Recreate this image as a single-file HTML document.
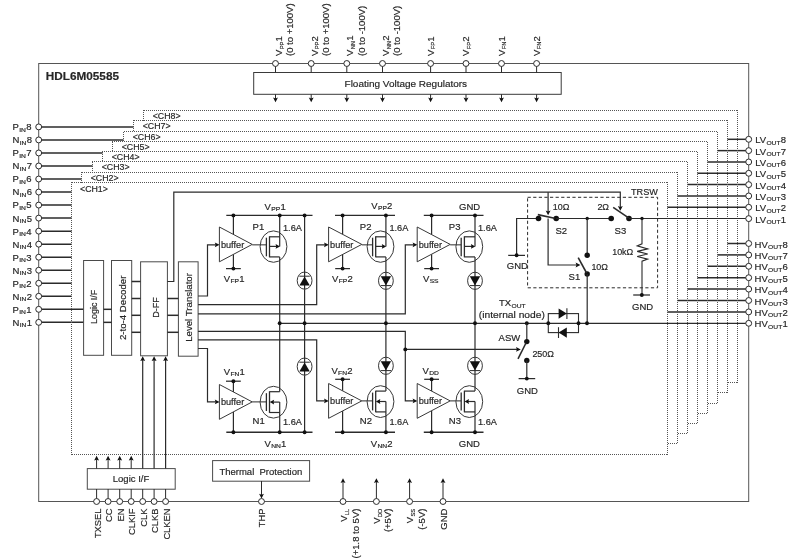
<!DOCTYPE html>
<html><head><meta charset="utf-8"><title>HDL6M05585 block diagram</title>
<style>html,body{margin:0;padding:0;background:#fff;}svg{display:block;will-change:transform;}text{font-family:"Liberation Sans",sans-serif;}</style></head>
<body>
<svg width="800" height="560" viewBox="0 0 800 560" font-family="'Liberation Sans', sans-serif">
<rect x="0" y="0" width="800" height="560" fill="#ffffff"/>
<rect x="38.7" y="63.5" width="710" height="438" fill="none" stroke="#555555" stroke-width="1.0" />
<line x1="38.7" y1="126.9" x2="133.5" y2="126.9" stroke="#2b2b2b" stroke-width="1.5" />
<line x1="38.7" y1="139.93" x2="123.5" y2="139.93" stroke="#2b2b2b" stroke-width="1.5" />
<line x1="38.7" y1="152.96" x2="102.5" y2="152.96" stroke="#2b2b2b" stroke-width="1.5" />
<line x1="38.7" y1="165.99" x2="92.5" y2="165.99" stroke="#2b2b2b" stroke-width="1.5" />
<line x1="38.7" y1="179.02" x2="81.5" y2="179.02" stroke="#2b2b2b" stroke-width="1.5" />
<line x1="38.7" y1="192.05" x2="71.5" y2="192.05" stroke="#2b2b2b" stroke-width="1.5" />
<line x1="38.7" y1="205.08" x2="71.5" y2="205.08" stroke="#2b2b2b" stroke-width="1.5" />
<line x1="38.7" y1="218.11" x2="71.5" y2="218.11" stroke="#2b2b2b" stroke-width="1.5" />
<line x1="38.7" y1="231.14" x2="71.5" y2="231.14" stroke="#2b2b2b" stroke-width="1.5" />
<line x1="38.7" y1="244.17" x2="71.5" y2="244.17" stroke="#2b2b2b" stroke-width="1.5" />
<line x1="38.7" y1="257.2" x2="71.5" y2="257.2" stroke="#2b2b2b" stroke-width="1.5" />
<line x1="38.7" y1="270.23" x2="71.5" y2="270.23" stroke="#2b2b2b" stroke-width="1.5" />
<line x1="38.7" y1="283.26" x2="71.5" y2="283.26" stroke="#2b2b2b" stroke-width="1.5" />
<line x1="38.7" y1="296.29" x2="71.5" y2="296.29" stroke="#2b2b2b" stroke-width="1.5" />
<line x1="38.7" y1="309.32" x2="83.6" y2="309.32" stroke="#2b2b2b" stroke-width="1.5" />
<line x1="38.7" y1="322.35" x2="83.6" y2="322.35" stroke="#2b2b2b" stroke-width="1.5" />
<line x1="727.5" y1="139.3" x2="748.7" y2="139.3" stroke="#2b2b2b" stroke-width="1.5" />
<line x1="727.5" y1="243.5" x2="748.7" y2="243.5" stroke="#2b2b2b" stroke-width="1.5" />
<line x1="717.5" y1="150.63" x2="748.7" y2="150.63" stroke="#2b2b2b" stroke-width="1.5" />
<line x1="717.5" y1="254.9" x2="748.7" y2="254.9" stroke="#2b2b2b" stroke-width="1.5" />
<line x1="707.5" y1="161.96" x2="748.7" y2="161.96" stroke="#2b2b2b" stroke-width="1.5" />
<line x1="707.5" y1="266.3" x2="748.7" y2="266.3" stroke="#2b2b2b" stroke-width="1.5" />
<line x1="697.5" y1="173.29" x2="748.7" y2="173.29" stroke="#2b2b2b" stroke-width="1.5" />
<line x1="697.5" y1="277.7" x2="748.7" y2="277.7" stroke="#2b2b2b" stroke-width="1.5" />
<line x1="687.5" y1="184.62" x2="748.7" y2="184.62" stroke="#2b2b2b" stroke-width="1.5" />
<line x1="687.5" y1="289.1" x2="748.7" y2="289.1" stroke="#2b2b2b" stroke-width="1.5" />
<line x1="677.5" y1="195.95" x2="748.7" y2="195.95" stroke="#2b2b2b" stroke-width="1.5" />
<line x1="677.5" y1="300.5" x2="748.7" y2="300.5" stroke="#2b2b2b" stroke-width="1.5" />
<line x1="667.5" y1="207.28" x2="748.7" y2="207.28" stroke="#2b2b2b" stroke-width="1.5" />
<line x1="667.5" y1="311.9" x2="748.7" y2="311.9" stroke="#2b2b2b" stroke-width="1.5" />
<defs><pattern id="dh" width="2" height="1" patternUnits="userSpaceOnUse"><rect x="0" y="0" width="1" height="1" fill="#555555"/></pattern><pattern id="dv" width="1" height="2" patternUnits="userSpaceOnUse"><rect x="0" y="0" width="1" height="1" fill="#555555"/></pattern></defs>
<rect x="143" y="110" width="1" height="11" fill="url(#dv)"/>
<rect x="143" y="110" width="595" height="1" fill="url(#dh)"/>
<rect x="737" y="110" width="1" height="273" fill="url(#dv)"/>
<rect x="727" y="382" width="11" height="1" fill="url(#dh)"/>
<rect x="133" y="120" width="1" height="12" fill="url(#dv)"/>
<rect x="133" y="120" width="595" height="1" fill="url(#dh)"/>
<rect x="727" y="120" width="1" height="273" fill="url(#dv)"/>
<rect x="717" y="392" width="11" height="1" fill="url(#dh)"/>
<rect x="123" y="131" width="1" height="11" fill="url(#dv)"/>
<rect x="123" y="131" width="595" height="1" fill="url(#dh)"/>
<rect x="717" y="131" width="1" height="273" fill="url(#dv)"/>
<rect x="707" y="403" width="11" height="1" fill="url(#dh)"/>
<rect x="112" y="141" width="1" height="11" fill="url(#dv)"/>
<rect x="112" y="141" width="596" height="1" fill="url(#dh)"/>
<rect x="707" y="141" width="1" height="273" fill="url(#dv)"/>
<rect x="697" y="413" width="11" height="1" fill="url(#dh)"/>
<rect x="102" y="151" width="1" height="11" fill="url(#dv)"/>
<rect x="102" y="151" width="596" height="1" fill="url(#dh)"/>
<rect x="697" y="151" width="1" height="273" fill="url(#dv)"/>
<rect x="687" y="423" width="11" height="1" fill="url(#dh)"/>
<rect x="92" y="161" width="1" height="12" fill="url(#dv)"/>
<rect x="92" y="161" width="596" height="1" fill="url(#dh)"/>
<rect x="687" y="161" width="1" height="273" fill="url(#dv)"/>
<rect x="677" y="433" width="11" height="1" fill="url(#dh)"/>
<rect x="81" y="172" width="1" height="11" fill="url(#dv)"/>
<rect x="81" y="172" width="597" height="1" fill="url(#dh)"/>
<rect x="677" y="172" width="1" height="272" fill="url(#dv)"/>
<rect x="667" y="443" width="11" height="1" fill="url(#dh)"/>
<rect x="71" y="182" width="1" height="273" fill="url(#dv)"/>
<rect x="667" y="182" width="1" height="273" fill="url(#dv)"/>
<rect x="71" y="182" width="597" height="1" fill="url(#dh)"/>
<rect x="71" y="454" width="597" height="1" fill="url(#dh)"/>
<g transform="translate(152.7 118.9)" fill="#262626" stroke="#262626" stroke-width="0.18"><text transform="translate(0 0) scale(1 1)" font-size="8.8" xml:space="preserve">&lt;CH8&gt;</text></g>
<g transform="translate(142.7 128.9)" fill="#262626" stroke="#262626" stroke-width="0.18"><text transform="translate(0 0) scale(1 1)" font-size="8.8" xml:space="preserve">&lt;CH7&gt;</text></g>
<g transform="translate(132.7 139.9)" fill="#262626" stroke="#262626" stroke-width="0.18"><text transform="translate(0 0) scale(1 1)" font-size="8.8" xml:space="preserve">&lt;CH6&gt;</text></g>
<g transform="translate(121.7 149.9)" fill="#262626" stroke="#262626" stroke-width="0.18"><text transform="translate(0 0) scale(1 1)" font-size="8.8" xml:space="preserve">&lt;CH5&gt;</text></g>
<g transform="translate(111.7 159.9)" fill="#262626" stroke="#262626" stroke-width="0.18"><text transform="translate(0 0) scale(1 1)" font-size="8.8" xml:space="preserve">&lt;CH4&gt;</text></g>
<g transform="translate(101.7 169.9)" fill="#262626" stroke="#262626" stroke-width="0.18"><text transform="translate(0 0) scale(1 1)" font-size="8.8" xml:space="preserve">&lt;CH3&gt;</text></g>
<g transform="translate(90.7 180.9)" fill="#262626" stroke="#262626" stroke-width="0.18"><text transform="translate(0 0) scale(1 1)" font-size="8.8" xml:space="preserve">&lt;CH2&gt;</text></g>
<g transform="translate(80 192.3)" fill="#262626" stroke="#262626" stroke-width="0.18"><text transform="translate(0 0) scale(1 1)" font-size="8.8" xml:space="preserve">&lt;CH1&gt;</text></g>
<g transform="translate(45.8 80)" fill="#262626" stroke="#262626" stroke-width="0.18" font-weight="bold"><text transform="translate(0 0) scale(1 1)" font-size="11.75" xml:space="preserve">HDL6M05585</text></g>
<rect x="253.7" y="72.5" width="307.5" height="21.8" fill="none" stroke="#3a3a3a" stroke-width="1.0" />
<line x1="275.5" y1="63.5" x2="275.5" y2="72.5" stroke="#2b2b2b" stroke-width="1.0" />
<line x1="275.5" y1="94.3" x2="275.5" y2="99" stroke="#2b2b2b" stroke-width="1.0" />
<polygon points="275.5,102.3 273.05,97.5 275.5,98.4 277.95,97.5" fill="#111" stroke="none" stroke-width="1.0"/>
<line x1="311.2" y1="63.5" x2="311.2" y2="72.5" stroke="#2b2b2b" stroke-width="1.0" />
<line x1="311.2" y1="94.3" x2="311.2" y2="99" stroke="#2b2b2b" stroke-width="1.0" />
<polygon points="311.2,102.3 308.75,97.5 311.2,98.4 313.65,97.5" fill="#111" stroke="none" stroke-width="1.0"/>
<line x1="346.8" y1="63.5" x2="346.8" y2="72.5" stroke="#2b2b2b" stroke-width="1.0" />
<line x1="346.8" y1="94.3" x2="346.8" y2="99" stroke="#2b2b2b" stroke-width="1.0" />
<polygon points="346.8,102.3 344.35,97.5 346.8,98.4 349.25,97.5" fill="#111" stroke="none" stroke-width="1.0"/>
<line x1="382.5" y1="63.5" x2="382.5" y2="72.5" stroke="#2b2b2b" stroke-width="1.0" />
<line x1="382.5" y1="94.3" x2="382.5" y2="99" stroke="#2b2b2b" stroke-width="1.0" />
<polygon points="382.5,102.3 380.05,97.5 382.5,98.4 384.95,97.5" fill="#111" stroke="none" stroke-width="1.0"/>
<line x1="430.6" y1="63.5" x2="430.6" y2="72.5" stroke="#2b2b2b" stroke-width="1.0" />
<line x1="430.6" y1="94.3" x2="430.6" y2="99" stroke="#2b2b2b" stroke-width="1.0" />
<polygon points="430.6,102.3 428.15,97.5 430.6,98.4 433.05,97.5" fill="#111" stroke="none" stroke-width="1.0"/>
<line x1="466" y1="63.5" x2="466" y2="72.5" stroke="#2b2b2b" stroke-width="1.0" />
<line x1="466" y1="94.3" x2="466" y2="99" stroke="#2b2b2b" stroke-width="1.0" />
<polygon points="466,102.3 463.55,97.5 466,98.4 468.45,97.5" fill="#111" stroke="none" stroke-width="1.0"/>
<line x1="501.5" y1="63.5" x2="501.5" y2="72.5" stroke="#2b2b2b" stroke-width="1.0" />
<line x1="501.5" y1="94.3" x2="501.5" y2="99" stroke="#2b2b2b" stroke-width="1.0" />
<polygon points="501.5,102.3 499.05,97.5 501.5,98.4 503.95,97.5" fill="#111" stroke="none" stroke-width="1.0"/>
<line x1="536.6" y1="63.5" x2="536.6" y2="72.5" stroke="#2b2b2b" stroke-width="1.0" />
<line x1="536.6" y1="94.3" x2="536.6" y2="99" stroke="#2b2b2b" stroke-width="1.0" />
<polygon points="536.6,102.3 534.15,97.5 536.6,98.4 539.05,97.5" fill="#111" stroke="none" stroke-width="1.0"/>
<g transform="translate(405.8 87.4)" fill="#262626" stroke="#262626" stroke-width="0.18"><text transform="translate(-61.25 0) scale(1.03 1)" font-size="9.7" xml:space="preserve">Floating Voltage Regulators</text></g>
<g transform="translate(282.1 56) rotate(-90)" fill="#262626" stroke="#262626" stroke-width="0.18"><text transform="translate(0 0) scale(1 1)" font-size="9.5" xml:space="preserve">V</text><text transform="translate(6.64 1.4) scale(1.05 1)" font-size="5.5" stroke-width="0.16">PP</text><text transform="translate(14.54 0) scale(1 1)" font-size="9.5" xml:space="preserve">1</text></g>
<g transform="translate(293.4 56) rotate(-90)" fill="#262626" stroke="#262626" stroke-width="0.18"><text transform="translate(0 0) scale(1 1)" font-size="9.5" xml:space="preserve">(0 to +100V)</text></g>
<g transform="translate(317.8 56) rotate(-90)" fill="#262626" stroke="#262626" stroke-width="0.18"><text transform="translate(0 0) scale(1 1)" font-size="9.5" xml:space="preserve">V</text><text transform="translate(6.64 1.4) scale(1.05 1)" font-size="5.5" stroke-width="0.16">PP</text><text transform="translate(14.54 0) scale(1 1)" font-size="9.5" xml:space="preserve">2</text></g>
<g transform="translate(329.1 56) rotate(-90)" fill="#262626" stroke="#262626" stroke-width="0.18"><text transform="translate(0 0) scale(1 1)" font-size="9.5" xml:space="preserve">(0 to +100V)</text></g>
<g transform="translate(353.4 56) rotate(-90)" fill="#262626" stroke="#262626" stroke-width="0.18"><text transform="translate(0 0) scale(1 1)" font-size="9.5" xml:space="preserve">V</text><text transform="translate(6.64 1.4) scale(1.05 1)" font-size="5.5" stroke-width="0.16">NN</text><text transform="translate(15.18 0) scale(1 1)" font-size="9.5" xml:space="preserve">1</text></g>
<g transform="translate(364.7 56) rotate(-90)" fill="#262626" stroke="#262626" stroke-width="0.18"><text transform="translate(0 0) scale(1 1)" font-size="9.5" xml:space="preserve">(0 to -100V)</text></g>
<g transform="translate(389.1 56) rotate(-90)" fill="#262626" stroke="#262626" stroke-width="0.18"><text transform="translate(0 0) scale(1 1)" font-size="9.5" xml:space="preserve">V</text><text transform="translate(6.64 1.4) scale(1.05 1)" font-size="5.5" stroke-width="0.16">NN</text><text transform="translate(15.18 0) scale(1 1)" font-size="9.5" xml:space="preserve">2</text></g>
<g transform="translate(400.4 56) rotate(-90)" fill="#262626" stroke="#262626" stroke-width="0.18"><text transform="translate(0 0) scale(1 1)" font-size="9.5" xml:space="preserve">(0 to -100V)</text></g>
<g transform="translate(433.9 56) rotate(-90)" fill="#262626" stroke="#262626" stroke-width="0.18"><text transform="translate(0 0) scale(1 1)" font-size="9.5" xml:space="preserve">V</text><text transform="translate(6.64 1.4) scale(1.05 1)" font-size="5.5" stroke-width="0.16">FP</text><text transform="translate(14.22 0) scale(1 1)" font-size="9.5" xml:space="preserve">1</text></g>
<g transform="translate(469.3 56) rotate(-90)" fill="#262626" stroke="#262626" stroke-width="0.18"><text transform="translate(0 0) scale(1 1)" font-size="9.5" xml:space="preserve">V</text><text transform="translate(6.64 1.4) scale(1.05 1)" font-size="5.5" stroke-width="0.16">FP</text><text transform="translate(14.22 0) scale(1 1)" font-size="9.5" xml:space="preserve">2</text></g>
<g transform="translate(504.8 56) rotate(-90)" fill="#262626" stroke="#262626" stroke-width="0.18"><text transform="translate(0 0) scale(1 1)" font-size="9.5" xml:space="preserve">V</text><text transform="translate(6.64 1.4) scale(1.05 1)" font-size="5.5" stroke-width="0.16">FN</text><text transform="translate(14.53 0) scale(1 1)" font-size="9.5" xml:space="preserve">1</text></g>
<g transform="translate(539.9 56) rotate(-90)" fill="#262626" stroke="#262626" stroke-width="0.18"><text transform="translate(0 0) scale(1 1)" font-size="9.5" xml:space="preserve">V</text><text transform="translate(6.64 1.4) scale(1.05 1)" font-size="5.5" stroke-width="0.16">FN</text><text transform="translate(14.53 0) scale(1 1)" font-size="9.5" xml:space="preserve">2</text></g>
<g transform="translate(12.6 130.3)" fill="#262626" stroke="#262626" stroke-width="0.18"><text transform="translate(0 0) scale(1 1)" font-size="9.5" xml:space="preserve">P</text><text transform="translate(6.64 1.4) scale(1.22 1)" font-size="5.5" stroke-width="0.16">IN</text><text transform="translate(13.55 0) scale(1 1)" font-size="9.5" xml:space="preserve">8</text></g>
<g transform="translate(12.6 143.33)" fill="#262626" stroke="#262626" stroke-width="0.18"><text transform="translate(0 0) scale(1 1)" font-size="9.5" xml:space="preserve">N</text><text transform="translate(7.16 1.4) scale(1.22 1)" font-size="5.5" stroke-width="0.16">IN</text><text transform="translate(14.07 0) scale(1 1)" font-size="9.5" xml:space="preserve">8</text></g>
<g transform="translate(12.6 156.36)" fill="#262626" stroke="#262626" stroke-width="0.18"><text transform="translate(0 0) scale(1 1)" font-size="9.5" xml:space="preserve">P</text><text transform="translate(6.64 1.4) scale(1.22 1)" font-size="5.5" stroke-width="0.16">IN</text><text transform="translate(13.55 0) scale(1 1)" font-size="9.5" xml:space="preserve">7</text></g>
<g transform="translate(12.6 169.39)" fill="#262626" stroke="#262626" stroke-width="0.18"><text transform="translate(0 0) scale(1 1)" font-size="9.5" xml:space="preserve">N</text><text transform="translate(7.16 1.4) scale(1.22 1)" font-size="5.5" stroke-width="0.16">IN</text><text transform="translate(14.07 0) scale(1 1)" font-size="9.5" xml:space="preserve">7</text></g>
<g transform="translate(12.6 182.42)" fill="#262626" stroke="#262626" stroke-width="0.18"><text transform="translate(0 0) scale(1 1)" font-size="9.5" xml:space="preserve">P</text><text transform="translate(6.64 1.4) scale(1.22 1)" font-size="5.5" stroke-width="0.16">IN</text><text transform="translate(13.55 0) scale(1 1)" font-size="9.5" xml:space="preserve">6</text></g>
<g transform="translate(12.6 195.45)" fill="#262626" stroke="#262626" stroke-width="0.18"><text transform="translate(0 0) scale(1 1)" font-size="9.5" xml:space="preserve">N</text><text transform="translate(7.16 1.4) scale(1.22 1)" font-size="5.5" stroke-width="0.16">IN</text><text transform="translate(14.07 0) scale(1 1)" font-size="9.5" xml:space="preserve">6</text></g>
<g transform="translate(12.6 208.48)" fill="#262626" stroke="#262626" stroke-width="0.18"><text transform="translate(0 0) scale(1 1)" font-size="9.5" xml:space="preserve">P</text><text transform="translate(6.64 1.4) scale(1.22 1)" font-size="5.5" stroke-width="0.16">IN</text><text transform="translate(13.55 0) scale(1 1)" font-size="9.5" xml:space="preserve">5</text></g>
<g transform="translate(12.6 221.51)" fill="#262626" stroke="#262626" stroke-width="0.18"><text transform="translate(0 0) scale(1 1)" font-size="9.5" xml:space="preserve">N</text><text transform="translate(7.16 1.4) scale(1.22 1)" font-size="5.5" stroke-width="0.16">IN</text><text transform="translate(14.07 0) scale(1 1)" font-size="9.5" xml:space="preserve">5</text></g>
<g transform="translate(12.6 234.54)" fill="#262626" stroke="#262626" stroke-width="0.18"><text transform="translate(0 0) scale(1 1)" font-size="9.5" xml:space="preserve">P</text><text transform="translate(6.64 1.4) scale(1.22 1)" font-size="5.5" stroke-width="0.16">IN</text><text transform="translate(13.55 0) scale(1 1)" font-size="9.5" xml:space="preserve">4</text></g>
<g transform="translate(12.6 247.57)" fill="#262626" stroke="#262626" stroke-width="0.18"><text transform="translate(0 0) scale(1 1)" font-size="9.5" xml:space="preserve">N</text><text transform="translate(7.16 1.4) scale(1.22 1)" font-size="5.5" stroke-width="0.16">IN</text><text transform="translate(14.07 0) scale(1 1)" font-size="9.5" xml:space="preserve">4</text></g>
<g transform="translate(12.6 260.6)" fill="#262626" stroke="#262626" stroke-width="0.18"><text transform="translate(0 0) scale(1 1)" font-size="9.5" xml:space="preserve">P</text><text transform="translate(6.64 1.4) scale(1.22 1)" font-size="5.5" stroke-width="0.16">IN</text><text transform="translate(13.55 0) scale(1 1)" font-size="9.5" xml:space="preserve">3</text></g>
<g transform="translate(12.6 273.63)" fill="#262626" stroke="#262626" stroke-width="0.18"><text transform="translate(0 0) scale(1 1)" font-size="9.5" xml:space="preserve">N</text><text transform="translate(7.16 1.4) scale(1.22 1)" font-size="5.5" stroke-width="0.16">IN</text><text transform="translate(14.07 0) scale(1 1)" font-size="9.5" xml:space="preserve">3</text></g>
<g transform="translate(12.6 286.66)" fill="#262626" stroke="#262626" stroke-width="0.18"><text transform="translate(0 0) scale(1 1)" font-size="9.5" xml:space="preserve">P</text><text transform="translate(6.64 1.4) scale(1.22 1)" font-size="5.5" stroke-width="0.16">IN</text><text transform="translate(13.55 0) scale(1 1)" font-size="9.5" xml:space="preserve">2</text></g>
<g transform="translate(12.6 299.69)" fill="#262626" stroke="#262626" stroke-width="0.18"><text transform="translate(0 0) scale(1 1)" font-size="9.5" xml:space="preserve">N</text><text transform="translate(7.16 1.4) scale(1.22 1)" font-size="5.5" stroke-width="0.16">IN</text><text transform="translate(14.07 0) scale(1 1)" font-size="9.5" xml:space="preserve">2</text></g>
<g transform="translate(12.6 312.72)" fill="#262626" stroke="#262626" stroke-width="0.18"><text transform="translate(0 0) scale(1 1)" font-size="9.5" xml:space="preserve">P</text><text transform="translate(6.64 1.4) scale(1.22 1)" font-size="5.5" stroke-width="0.16">IN</text><text transform="translate(13.55 0) scale(1 1)" font-size="9.5" xml:space="preserve">1</text></g>
<g transform="translate(12.6 325.75)" fill="#262626" stroke="#262626" stroke-width="0.18"><text transform="translate(0 0) scale(1 1)" font-size="9.5" xml:space="preserve">N</text><text transform="translate(7.16 1.4) scale(1.22 1)" font-size="5.5" stroke-width="0.16">IN</text><text transform="translate(14.07 0) scale(1 1)" font-size="9.5" xml:space="preserve">1</text></g>
<g transform="translate(755.2 143.3)" fill="#262626" stroke="#262626" stroke-width="0.18"><text transform="translate(0 0) scale(1 1)" font-size="9.5" xml:space="preserve">LV</text><text transform="translate(11.21 1.4) scale(1.22 1)" font-size="5.5" stroke-width="0.16">OUT</text><text transform="translate(25.58 0) scale(1 1)" font-size="9.5" xml:space="preserve">8</text></g>
<g transform="translate(754.6 247.5)" fill="#262626" stroke="#262626" stroke-width="0.18"><text transform="translate(0 0) scale(1 1)" font-size="9.5" xml:space="preserve">HV</text><text transform="translate(13.5 1.4) scale(1.22 1)" font-size="5.5" stroke-width="0.16">OUT</text><text transform="translate(27.86 0) scale(1 1)" font-size="9.5" xml:space="preserve">8</text></g>
<g transform="translate(755.2 154.63)" fill="#262626" stroke="#262626" stroke-width="0.18"><text transform="translate(0 0) scale(1 1)" font-size="9.5" xml:space="preserve">LV</text><text transform="translate(11.21 1.4) scale(1.22 1)" font-size="5.5" stroke-width="0.16">OUT</text><text transform="translate(25.58 0) scale(1 1)" font-size="9.5" xml:space="preserve">7</text></g>
<g transform="translate(754.6 258.9)" fill="#262626" stroke="#262626" stroke-width="0.18"><text transform="translate(0 0) scale(1 1)" font-size="9.5" xml:space="preserve">HV</text><text transform="translate(13.5 1.4) scale(1.22 1)" font-size="5.5" stroke-width="0.16">OUT</text><text transform="translate(27.86 0) scale(1 1)" font-size="9.5" xml:space="preserve">7</text></g>
<g transform="translate(755.2 165.96)" fill="#262626" stroke="#262626" stroke-width="0.18"><text transform="translate(0 0) scale(1 1)" font-size="9.5" xml:space="preserve">LV</text><text transform="translate(11.21 1.4) scale(1.22 1)" font-size="5.5" stroke-width="0.16">OUT</text><text transform="translate(25.58 0) scale(1 1)" font-size="9.5" xml:space="preserve">6</text></g>
<g transform="translate(754.6 270.3)" fill="#262626" stroke="#262626" stroke-width="0.18"><text transform="translate(0 0) scale(1 1)" font-size="9.5" xml:space="preserve">HV</text><text transform="translate(13.5 1.4) scale(1.22 1)" font-size="5.5" stroke-width="0.16">OUT</text><text transform="translate(27.86 0) scale(1 1)" font-size="9.5" xml:space="preserve">6</text></g>
<g transform="translate(755.2 177.29)" fill="#262626" stroke="#262626" stroke-width="0.18"><text transform="translate(0 0) scale(1 1)" font-size="9.5" xml:space="preserve">LV</text><text transform="translate(11.21 1.4) scale(1.22 1)" font-size="5.5" stroke-width="0.16">OUT</text><text transform="translate(25.58 0) scale(1 1)" font-size="9.5" xml:space="preserve">5</text></g>
<g transform="translate(754.6 281.7)" fill="#262626" stroke="#262626" stroke-width="0.18"><text transform="translate(0 0) scale(1 1)" font-size="9.5" xml:space="preserve">HV</text><text transform="translate(13.5 1.4) scale(1.22 1)" font-size="5.5" stroke-width="0.16">OUT</text><text transform="translate(27.86 0) scale(1 1)" font-size="9.5" xml:space="preserve">5</text></g>
<g transform="translate(755.2 188.62)" fill="#262626" stroke="#262626" stroke-width="0.18"><text transform="translate(0 0) scale(1 1)" font-size="9.5" xml:space="preserve">LV</text><text transform="translate(11.21 1.4) scale(1.22 1)" font-size="5.5" stroke-width="0.16">OUT</text><text transform="translate(25.58 0) scale(1 1)" font-size="9.5" xml:space="preserve">4</text></g>
<g transform="translate(754.6 293.1)" fill="#262626" stroke="#262626" stroke-width="0.18"><text transform="translate(0 0) scale(1 1)" font-size="9.5" xml:space="preserve">HV</text><text transform="translate(13.5 1.4) scale(1.22 1)" font-size="5.5" stroke-width="0.16">OUT</text><text transform="translate(27.86 0) scale(1 1)" font-size="9.5" xml:space="preserve">4</text></g>
<g transform="translate(755.2 199.95)" fill="#262626" stroke="#262626" stroke-width="0.18"><text transform="translate(0 0) scale(1 1)" font-size="9.5" xml:space="preserve">LV</text><text transform="translate(11.21 1.4) scale(1.22 1)" font-size="5.5" stroke-width="0.16">OUT</text><text transform="translate(25.58 0) scale(1 1)" font-size="9.5" xml:space="preserve">3</text></g>
<g transform="translate(754.6 304.5)" fill="#262626" stroke="#262626" stroke-width="0.18"><text transform="translate(0 0) scale(1 1)" font-size="9.5" xml:space="preserve">HV</text><text transform="translate(13.5 1.4) scale(1.22 1)" font-size="5.5" stroke-width="0.16">OUT</text><text transform="translate(27.86 0) scale(1 1)" font-size="9.5" xml:space="preserve">3</text></g>
<g transform="translate(755.2 211.28)" fill="#262626" stroke="#262626" stroke-width="0.18"><text transform="translate(0 0) scale(1 1)" font-size="9.5" xml:space="preserve">LV</text><text transform="translate(11.21 1.4) scale(1.22 1)" font-size="5.5" stroke-width="0.16">OUT</text><text transform="translate(25.58 0) scale(1 1)" font-size="9.5" xml:space="preserve">2</text></g>
<g transform="translate(754.6 315.9)" fill="#262626" stroke="#262626" stroke-width="0.18"><text transform="translate(0 0) scale(1 1)" font-size="9.5" xml:space="preserve">HV</text><text transform="translate(13.5 1.4) scale(1.22 1)" font-size="5.5" stroke-width="0.16">OUT</text><text transform="translate(27.86 0) scale(1 1)" font-size="9.5" xml:space="preserve">2</text></g>
<g transform="translate(755.2 222.61)" fill="#262626" stroke="#262626" stroke-width="0.18"><text transform="translate(0 0) scale(1 1)" font-size="9.5" xml:space="preserve">LV</text><text transform="translate(11.21 1.4) scale(1.22 1)" font-size="5.5" stroke-width="0.16">OUT</text><text transform="translate(25.58 0) scale(1 1)" font-size="9.5" xml:space="preserve">1</text></g>
<g transform="translate(754.6 327.3)" fill="#262626" stroke="#262626" stroke-width="0.18"><text transform="translate(0 0) scale(1 1)" font-size="9.5" xml:space="preserve">HV</text><text transform="translate(13.5 1.4) scale(1.22 1)" font-size="5.5" stroke-width="0.16">OUT</text><text transform="translate(27.86 0) scale(1 1)" font-size="9.5" xml:space="preserve">1</text></g>
<rect x="83.6" y="260.5" width="20" height="94.8" fill="none" stroke="#4a4a4a" stroke-width="1.0" />
<rect x="111.5" y="260.5" width="20.2" height="94.8" fill="none" stroke="#4a4a4a" stroke-width="1.0" />
<rect x="140.6" y="261.8" width="26.8" height="94" fill="none" stroke="#4a4a4a" stroke-width="1.0" />
<rect x="178.4" y="261.8" width="19.7" height="94.4" fill="none" stroke="#4a4a4a" stroke-width="1.0" />
<g transform="translate(97.3 306.8) rotate(-90)" fill="#262626" stroke="#262626" stroke-width="0.18"><text transform="translate(-17.12 0) scale(0.94 1)" font-size="9.5" xml:space="preserve">Logic I/F</text></g>
<g transform="translate(125.9 307.8) rotate(-90)" fill="#262626" stroke="#262626" stroke-width="0.18"><text transform="translate(-32.32 0) scale(1.02 1)" font-size="9.5" xml:space="preserve">2-to-4 Decoder</text></g>
<g transform="translate(158.6 307.4) rotate(-90)" fill="#262626" stroke="#262626" stroke-width="0.18"><text transform="translate(-10.27 0) scale(0.95 1)" font-size="9.5" xml:space="preserve">D-FF</text></g>
<g transform="translate(192.4 307.4) rotate(-90)" fill="#262626" stroke="#262626" stroke-width="0.18"><text transform="translate(-34.47 0) scale(1.02 1)" font-size="9.5" xml:space="preserve">Level Translator</text></g>
<line x1="103.6" y1="309.32" x2="111.5" y2="309.32" stroke="#2b2b2b" stroke-width="1.5" />
<line x1="103.6" y1="322.35" x2="111.5" y2="322.35" stroke="#2b2b2b" stroke-width="1.5" />
<line x1="131.7" y1="281.5" x2="140.6" y2="281.5" stroke="#2b2b2b" stroke-width="1.5" />
<line x1="131.7" y1="298.5" x2="140.6" y2="298.5" stroke="#2b2b2b" stroke-width="1.5" />
<line x1="131.7" y1="315.3" x2="140.6" y2="315.3" stroke="#2b2b2b" stroke-width="1.5" />
<line x1="131.7" y1="332.3" x2="140.6" y2="332.3" stroke="#2b2b2b" stroke-width="1.5" />
<line x1="167.4" y1="298.5" x2="178.4" y2="298.5" stroke="#2b2b2b" stroke-width="1.5" />
<line x1="167.4" y1="315.3" x2="178.4" y2="315.3" stroke="#2b2b2b" stroke-width="1.5" />
<line x1="167.4" y1="332.3" x2="178.4" y2="332.3" stroke="#2b2b2b" stroke-width="1.5" />
<polyline points="167.4,281.5 173.8,281.5 173.8,192.2 620.3,192.2 620.3,207" fill="none" stroke="#2b2b2b" stroke-width="1.2" />
<polygon points="620.3,210.8 617.85,206 620.3,206.9 622.75,206" fill="#111" stroke="none" stroke-width="1.0"/>
<polyline points="548.1,192.2 548.1,212" fill="none" stroke="#2b2b2b" stroke-width="1.2" />
<polygon points="548.1,215.3 545.65,210.5 548.1,211.4 550.55,210.5" fill="#111" stroke="none" stroke-width="1.0"/>
<polyline points="548.1,218.5 548.1,265 577,265" fill="none" stroke="#2b2b2b" stroke-width="1.2" />
<polygon points="580.4,265 575.6,262.55 576.5,265 575.6,267.45" fill="#111" stroke="none" stroke-width="1.0"/>
<polyline points="198.1,296 207.5,296 207.5,244.85 216.4,244.85" fill="none" stroke="#2b2b2b" stroke-width="1.2" />
<polyline points="198.1,348.5 207.5,348.5 207.5,401.9 216.4,401.9" fill="none" stroke="#2b2b2b" stroke-width="1.2" />
<polyline points="198.1,304.6 316.7,304.6 316.7,244.85 325.6,244.85" fill="none" stroke="#2b2b2b" stroke-width="1.2" />
<polyline points="198.1,339.8 316.7,339.8 316.7,400.9 325.6,400.9" fill="none" stroke="#2b2b2b" stroke-width="1.2" />
<polyline points="198.1,313.9 405.3,313.9 405.3,244.85 414.2,244.85" fill="none" stroke="#2b2b2b" stroke-width="1.2" />
<polyline points="198.1,331.4 405.3,331.4 405.3,400.9 414.2,400.9" fill="none" stroke="#2b2b2b" stroke-width="1.2" />
<polygon points="219.6,244.85 214.8,242.4 215.7,244.85 214.8,247.3" fill="#111" stroke="none" stroke-width="1.0"/>
<polygon points="219.6,401.9 214.8,399.45 215.7,401.9 214.8,404.35" fill="#111" stroke="none" stroke-width="1.0"/>
<polygon points="328.8,244.85 324,242.4 324.9,244.85 324,247.3" fill="#111" stroke="none" stroke-width="1.0"/>
<polygon points="328.8,400.9 324,398.45 324.9,400.9 324,403.35" fill="#111" stroke="none" stroke-width="1.0"/>
<polygon points="417.4,244.85 412.6,242.4 413.5,244.85 412.6,247.3" fill="#111" stroke="none" stroke-width="1.0"/>
<polygon points="417.4,400.9 412.6,398.45 413.5,400.9 412.6,403.35" fill="#111" stroke="none" stroke-width="1.0"/>
<line x1="405.3" y1="349.4" x2="517.5" y2="349.4" stroke="#2b2b2b" stroke-width="1.2" />
<circle cx="405.3" cy="349.4" r="1.95" fill="#111"/>
<polygon points="520.8,349.4 516,346.95 516.9,349.4 516,351.85" fill="#111" stroke="none" stroke-width="1.0"/>
<line x1="279.7" y1="323.3" x2="748.7" y2="323.3" stroke="#2b2b2b" stroke-width="1.2" />
<line x1="226.3" y1="215.4" x2="312.5" y2="215.4" stroke="#2b2b2b" stroke-width="1.4" />
<line x1="226.3" y1="432.3" x2="312.5" y2="432.3" stroke="#2b2b2b" stroke-width="1.4" />
<line x1="233.4" y1="215.4" x2="233.4" y2="234.43" stroke="#2b2b2b" stroke-width="1.2" />
<line x1="233.4" y1="254.37" x2="233.4" y2="268.6" stroke="#2b2b2b" stroke-width="1.2" />
<line x1="226" y1="268.6" x2="240.8" y2="268.6" stroke="#2b2b2b" stroke-width="1.25" />
<line x1="233.4" y1="381.2" x2="233.4" y2="391.93" stroke="#2b2b2b" stroke-width="1.2" />
<line x1="226" y1="381.2" x2="240.8" y2="381.2" stroke="#2b2b2b" stroke-width="1.25" />
<line x1="233.4" y1="411.87" x2="233.4" y2="432.3" stroke="#2b2b2b" stroke-width="1.2" />
<circle cx="233.4" cy="215.4" r="1.95" fill="#111"/>
<circle cx="233.4" cy="432.3" r="1.95" fill="#111"/>
<circle cx="233.4" cy="268.6" r="1.95" fill="#111"/>
<circle cx="233.4" cy="381.2" r="1.95" fill="#111"/>
<polyline points="219.4,227 252.2,244.4 219.4,261.8 219.4,227" fill="#fff" stroke="#383838" stroke-width="1.0" stroke-linejoin="miter"/>
<g transform="translate(220.9 247.7)" fill="#262626" stroke="#262626" stroke-width="0.18"><text transform="translate(0 0) scale(1 1)" font-size="9.2" xml:space="preserve">buffer</text></g>
<polyline points="219.4,384.5 252.2,401.9 219.4,419.3 219.4,384.5" fill="#fff" stroke="#383838" stroke-width="1.0" stroke-linejoin="miter"/>
<g transform="translate(220.9 405.2)" fill="#262626" stroke="#262626" stroke-width="0.18"><text transform="translate(0 0) scale(1 1)" font-size="9.2" xml:space="preserve">buffer</text></g>
<line x1="252.2" y1="244.85" x2="266.4" y2="244.85" stroke="#2b2b2b" stroke-width="1.0" />
<ellipse cx="273.5" cy="246.6" rx="13.4" ry="15.7" fill="none" stroke="#383838" stroke-width="1"/>
<line x1="266.4" y1="237.7" x2="266.4" y2="256.3" stroke="#2b2b2b" stroke-width="1.3" />
<line x1="269.5" y1="236.3" x2="269.5" y2="257.3" stroke="#2b2b2b" stroke-width="1.3" />
<line x1="269.5" y1="236.8" x2="279.7" y2="236.8" stroke="#2b2b2b" stroke-width="1.2" />
<line x1="269.5" y1="256.9" x2="279.7" y2="256.9" stroke="#2b2b2b" stroke-width="1.2" />
<line x1="269.5" y1="246.4" x2="276.7" y2="246.4" stroke="#2b2b2b" stroke-width="1.2" />
<polygon points="280,246.4 275.6,244 276.2,246.4 275.6,248.8" fill="#111" stroke="none" stroke-width="1.0"/>
<line x1="252.2" y1="401.9" x2="266.4" y2="401.9" stroke="#2b2b2b" stroke-width="1.0" />
<ellipse cx="273.5" cy="402.2" rx="13.4" ry="15.9" fill="none" stroke="#383838" stroke-width="1"/>
<line x1="266.4" y1="393.2" x2="266.4" y2="411" stroke="#2b2b2b" stroke-width="1.3" />
<line x1="269.5" y1="391.3" x2="269.5" y2="412.9" stroke="#2b2b2b" stroke-width="1.3" />
<line x1="269.5" y1="391.7" x2="279.7" y2="391.7" stroke="#2b2b2b" stroke-width="1.2" />
<line x1="269.5" y1="412.5" x2="279.7" y2="412.5" stroke="#2b2b2b" stroke-width="1.2" />
<line x1="272.5" y1="402.1" x2="279.7" y2="402.1" stroke="#2b2b2b" stroke-width="1.2" />
<polygon points="269.7,402.1 274.1,399.7 273.5,402.1 274.1,404.5" fill="#111" stroke="none" stroke-width="1.0"/>
<line x1="279.7" y1="215.4" x2="279.7" y2="246.4" stroke="#2b2b2b" stroke-width="1.2" />
<line x1="279.7" y1="256.9" x2="279.7" y2="391.7" stroke="#2b2b2b" stroke-width="1.2" />
<line x1="279.7" y1="402.1" x2="279.7" y2="432.3" stroke="#2b2b2b" stroke-width="1.2" />
<circle cx="279.7" cy="215.4" r="1.95" fill="#111"/>
<circle cx="279.7" cy="432.3" r="1.95" fill="#111"/>
<circle cx="279.7" cy="323.3" r="1.95" fill="#111"/>
<line x1="335" y1="215.4" x2="395" y2="215.4" stroke="#2b2b2b" stroke-width="1.4" />
<line x1="335" y1="432.3" x2="395" y2="432.3" stroke="#2b2b2b" stroke-width="1.4" />
<line x1="342.6" y1="215.4" x2="342.6" y2="234.34" stroke="#2b2b2b" stroke-width="1.2" />
<line x1="342.6" y1="254.46" x2="342.6" y2="268.6" stroke="#2b2b2b" stroke-width="1.2" />
<line x1="335.2" y1="268.6" x2="350" y2="268.6" stroke="#2b2b2b" stroke-width="1.25" />
<line x1="342.6" y1="379.3" x2="342.6" y2="390.84" stroke="#2b2b2b" stroke-width="1.2" />
<line x1="335.2" y1="379.3" x2="350" y2="379.3" stroke="#2b2b2b" stroke-width="1.25" />
<line x1="342.6" y1="410.96" x2="342.6" y2="432.3" stroke="#2b2b2b" stroke-width="1.2" />
<circle cx="342.6" cy="215.4" r="1.95" fill="#111"/>
<circle cx="342.6" cy="432.3" r="1.95" fill="#111"/>
<circle cx="342.6" cy="268.6" r="1.95" fill="#111"/>
<circle cx="342.6" cy="379.3" r="1.95" fill="#111"/>
<polyline points="328.6,227 361.8,244.4 328.6,261.8 328.6,227" fill="#fff" stroke="#383838" stroke-width="1.0" stroke-linejoin="miter"/>
<g transform="translate(330.1 247.7)" fill="#262626" stroke="#262626" stroke-width="0.18"><text transform="translate(0 0) scale(1 1)" font-size="9.2" xml:space="preserve">buffer</text></g>
<polyline points="328.6,383.5 361.8,400.9 328.6,418.3 328.6,383.5" fill="#fff" stroke="#383838" stroke-width="1.0" stroke-linejoin="miter"/>
<g transform="translate(330.1 404.2)" fill="#262626" stroke="#262626" stroke-width="0.18"><text transform="translate(0 0) scale(1 1)" font-size="9.2" xml:space="preserve">buffer</text></g>
<line x1="361.8" y1="244.85" x2="372.6" y2="244.85" stroke="#2b2b2b" stroke-width="1.0" />
<ellipse cx="380.5" cy="246.6" rx="13.4" ry="15.7" fill="none" stroke="#383838" stroke-width="1"/>
<line x1="372.6" y1="237.7" x2="372.6" y2="256.3" stroke="#2b2b2b" stroke-width="1.3" />
<line x1="375.7" y1="236.3" x2="375.7" y2="257.3" stroke="#2b2b2b" stroke-width="1.3" />
<line x1="375.7" y1="236.8" x2="385.9" y2="236.8" stroke="#2b2b2b" stroke-width="1.2" />
<line x1="375.7" y1="256.9" x2="385.9" y2="256.9" stroke="#2b2b2b" stroke-width="1.2" />
<line x1="375.7" y1="246.4" x2="382.9" y2="246.4" stroke="#2b2b2b" stroke-width="1.2" />
<polygon points="386.2,246.4 381.8,244 382.4,246.4 381.8,248.8" fill="#111" stroke="none" stroke-width="1.0"/>
<line x1="361.8" y1="400.9" x2="372.6" y2="400.9" stroke="#2b2b2b" stroke-width="1.0" />
<ellipse cx="380.5" cy="401.6" rx="13.4" ry="15.9" fill="none" stroke="#383838" stroke-width="1"/>
<line x1="372.6" y1="392.6" x2="372.6" y2="410.4" stroke="#2b2b2b" stroke-width="1.3" />
<line x1="375.7" y1="390.7" x2="375.7" y2="412.3" stroke="#2b2b2b" stroke-width="1.3" />
<line x1="375.7" y1="391.1" x2="385.9" y2="391.1" stroke="#2b2b2b" stroke-width="1.2" />
<line x1="375.7" y1="411.9" x2="385.9" y2="411.9" stroke="#2b2b2b" stroke-width="1.2" />
<line x1="378.7" y1="401.5" x2="385.9" y2="401.5" stroke="#2b2b2b" stroke-width="1.2" />
<polygon points="375.9,401.5 380.3,399.1 379.7,401.5 380.3,403.9" fill="#111" stroke="none" stroke-width="1.0"/>
<line x1="385.9" y1="215.4" x2="385.9" y2="246.4" stroke="#2b2b2b" stroke-width="1.2" />
<line x1="385.9" y1="256.9" x2="385.9" y2="391.1" stroke="#2b2b2b" stroke-width="1.2" />
<line x1="385.9" y1="401.5" x2="385.9" y2="432.3" stroke="#2b2b2b" stroke-width="1.2" />
<circle cx="385.9" cy="215.4" r="1.95" fill="#111"/>
<circle cx="385.9" cy="432.3" r="1.95" fill="#111"/>
<circle cx="385.9" cy="323.3" r="1.95" fill="#111"/>
<line x1="423.8" y1="215.4" x2="483.5" y2="215.4" stroke="#2b2b2b" stroke-width="1.4" />
<line x1="423.8" y1="432.3" x2="483.5" y2="432.3" stroke="#2b2b2b" stroke-width="1.4" />
<line x1="431.6" y1="215.4" x2="431.6" y2="234.59" stroke="#2b2b2b" stroke-width="1.2" />
<line x1="431.6" y1="254.21" x2="431.6" y2="268.6" stroke="#2b2b2b" stroke-width="1.2" />
<line x1="424.2" y1="268.6" x2="439" y2="268.6" stroke="#2b2b2b" stroke-width="1.25" />
<line x1="431.6" y1="379.3" x2="431.6" y2="391.09" stroke="#2b2b2b" stroke-width="1.2" />
<line x1="424.2" y1="379.3" x2="439" y2="379.3" stroke="#2b2b2b" stroke-width="1.25" />
<line x1="431.6" y1="410.71" x2="431.6" y2="432.3" stroke="#2b2b2b" stroke-width="1.2" />
<circle cx="431.6" cy="215.4" r="1.95" fill="#111"/>
<circle cx="431.6" cy="432.3" r="1.95" fill="#111"/>
<circle cx="431.6" cy="268.6" r="1.95" fill="#111"/>
<circle cx="431.6" cy="379.3" r="1.95" fill="#111"/>
<polyline points="417.2,227 450.2,244.4 417.2,261.8 417.2,227" fill="#fff" stroke="#383838" stroke-width="1.0" stroke-linejoin="miter"/>
<g transform="translate(418.7 247.7)" fill="#262626" stroke="#262626" stroke-width="0.18"><text transform="translate(0 0) scale(1 1)" font-size="9.2" xml:space="preserve">buffer</text></g>
<polyline points="417.2,383.5 450.2,400.9 417.2,418.3 417.2,383.5" fill="#fff" stroke="#383838" stroke-width="1.0" stroke-linejoin="miter"/>
<g transform="translate(418.7 404.2)" fill="#262626" stroke="#262626" stroke-width="0.18"><text transform="translate(0 0) scale(1 1)" font-size="9.2" xml:space="preserve">buffer</text></g>
<line x1="450.2" y1="244.85" x2="461.2" y2="244.85" stroke="#2b2b2b" stroke-width="1.0" />
<ellipse cx="469.3" cy="246.6" rx="13.4" ry="15.7" fill="none" stroke="#383838" stroke-width="1"/>
<line x1="461.2" y1="237.7" x2="461.2" y2="256.3" stroke="#2b2b2b" stroke-width="1.3" />
<line x1="464.4" y1="236.3" x2="464.4" y2="257.3" stroke="#2b2b2b" stroke-width="1.3" />
<line x1="464.4" y1="236.8" x2="475" y2="236.8" stroke="#2b2b2b" stroke-width="1.2" />
<line x1="464.4" y1="256.9" x2="475" y2="256.9" stroke="#2b2b2b" stroke-width="1.2" />
<line x1="464.4" y1="246.4" x2="472" y2="246.4" stroke="#2b2b2b" stroke-width="1.2" />
<polygon points="475.3,246.4 470.9,244 471.5,246.4 470.9,248.8" fill="#111" stroke="none" stroke-width="1.0"/>
<line x1="450.2" y1="400.9" x2="461.2" y2="400.9" stroke="#2b2b2b" stroke-width="1.0" />
<ellipse cx="469.3" cy="401.6" rx="13.4" ry="15.9" fill="none" stroke="#383838" stroke-width="1"/>
<line x1="461.2" y1="392.6" x2="461.2" y2="410.4" stroke="#2b2b2b" stroke-width="1.3" />
<line x1="464.4" y1="390.7" x2="464.4" y2="412.3" stroke="#2b2b2b" stroke-width="1.3" />
<line x1="464.4" y1="391.1" x2="475" y2="391.1" stroke="#2b2b2b" stroke-width="1.2" />
<line x1="464.4" y1="411.9" x2="475" y2="411.9" stroke="#2b2b2b" stroke-width="1.2" />
<line x1="467.4" y1="401.5" x2="475" y2="401.5" stroke="#2b2b2b" stroke-width="1.2" />
<polygon points="464.6,401.5 469,399.1 468.4,401.5 469,403.9" fill="#111" stroke="none" stroke-width="1.0"/>
<line x1="475" y1="215.4" x2="475" y2="246.4" stroke="#2b2b2b" stroke-width="1.2" />
<line x1="475" y1="256.9" x2="475" y2="391.1" stroke="#2b2b2b" stroke-width="1.2" />
<line x1="475" y1="401.5" x2="475" y2="432.3" stroke="#2b2b2b" stroke-width="1.2" />
<circle cx="475" cy="215.4" r="1.95" fill="#111"/>
<circle cx="475" cy="432.3" r="1.95" fill="#111"/>
<circle cx="475" cy="323.3" r="1.95" fill="#111"/>
<line x1="304.6" y1="215.4" x2="304.6" y2="432.3" stroke="#2b2b2b" stroke-width="1.2" />
<circle cx="304.6" cy="215.4" r="1.95" fill="#111"/>
<circle cx="304.6" cy="432.3" r="1.95" fill="#111"/>
<circle cx="304.6" cy="323.3" r="1.95" fill="#111"/>
<ellipse cx="304.6" cy="280.6" rx="7.4" ry="8.6" fill="#fff" stroke="#383838" stroke-width="1"/>
<line x1="304.6" y1="272" x2="304.6" y2="289.2" stroke="#2b2b2b" stroke-width="1.2" />
<polygon points="304.6,276.4 299.4,285.6 309.8,285.6" fill="#111" stroke="none" stroke-width="1.0"/>
<line x1="299.4" y1="276.2" x2="309.8" y2="276.2" stroke="#2b2b2b" stroke-width="1.0" />
<ellipse cx="304.6" cy="366.6" rx="7.4" ry="8.6" fill="#fff" stroke="#383838" stroke-width="1"/>
<line x1="304.6" y1="358" x2="304.6" y2="375.2" stroke="#2b2b2b" stroke-width="1.2" />
<polygon points="304.6,362.4 299.4,371.6 309.8,371.6" fill="#111" stroke="none" stroke-width="1.0"/>
<line x1="299.4" y1="362.2" x2="309.8" y2="362.2" stroke="#2b2b2b" stroke-width="1.0" />
<ellipse cx="385.9" cy="280.8" rx="7.4" ry="8.6" fill="#fff" stroke="#383838" stroke-width="1"/>
<line x1="385.9" y1="272.2" x2="385.9" y2="289.4" stroke="#2b2b2b" stroke-width="1.2" />
<polygon points="385.9,285.4 380.7,276.2 391.1,276.2" fill="#111" stroke="none" stroke-width="1.0"/>
<line x1="380.7" y1="285.6" x2="391.1" y2="285.6" stroke="#2b2b2b" stroke-width="1.0" />
<ellipse cx="385.9" cy="365.8" rx="7.4" ry="8.6" fill="#fff" stroke="#383838" stroke-width="1"/>
<line x1="385.9" y1="357.2" x2="385.9" y2="374.4" stroke="#2b2b2b" stroke-width="1.2" />
<polygon points="385.9,370.4 380.7,361.2 391.1,361.2" fill="#111" stroke="none" stroke-width="1.0"/>
<line x1="380.7" y1="370.6" x2="391.1" y2="370.6" stroke="#2b2b2b" stroke-width="1.0" />
<ellipse cx="475" cy="280.8" rx="7.4" ry="8.6" fill="#fff" stroke="#383838" stroke-width="1"/>
<line x1="475" y1="272.2" x2="475" y2="289.4" stroke="#2b2b2b" stroke-width="1.2" />
<polygon points="475,285.4 469.8,276.2 480.2,276.2" fill="#111" stroke="none" stroke-width="1.0"/>
<line x1="469.8" y1="285.6" x2="480.2" y2="285.6" stroke="#2b2b2b" stroke-width="1.0" />
<ellipse cx="475" cy="365.8" rx="7.4" ry="8.6" fill="#fff" stroke="#383838" stroke-width="1"/>
<line x1="475" y1="357.2" x2="475" y2="374.4" stroke="#2b2b2b" stroke-width="1.2" />
<polygon points="475,370.4 469.8,361.2 480.2,361.2" fill="#111" stroke="none" stroke-width="1.0"/>
<line x1="469.8" y1="370.6" x2="480.2" y2="370.6" stroke="#2b2b2b" stroke-width="1.0" />
<g transform="translate(264.6 209.6)" fill="#262626" stroke="#262626" stroke-width="0.18"><text transform="translate(0 0) scale(1 1)" font-size="9.5" xml:space="preserve">V</text><text transform="translate(6.64 1.4) scale(1.22 1)" font-size="5.5" stroke-width="0.16">PP</text><text transform="translate(15.79 0) scale(1 1)" font-size="9.5" xml:space="preserve">1</text></g>
<g transform="translate(371.3 208.8)" fill="#262626" stroke="#262626" stroke-width="0.18"><text transform="translate(0 0) scale(1 1)" font-size="9.5" xml:space="preserve">V</text><text transform="translate(6.64 1.4) scale(1.22 1)" font-size="5.5" stroke-width="0.16">PP</text><text transform="translate(15.79 0) scale(1 1)" font-size="9.5" xml:space="preserve">2</text></g>
<g transform="translate(459 209.7)" fill="#262626" stroke="#262626" stroke-width="0.18"><text transform="translate(0 0) scale(1 1)" font-size="9.5" xml:space="preserve">GND</text></g>
<g transform="translate(264.5 446.5)" fill="#262626" stroke="#262626" stroke-width="0.18"><text transform="translate(0 0) scale(1 1)" font-size="9.5" xml:space="preserve">V</text><text transform="translate(6.64 1.4) scale(1.22 1)" font-size="5.5" stroke-width="0.16">NN</text><text transform="translate(16.53 0) scale(1 1)" font-size="9.5" xml:space="preserve">1</text></g>
<g transform="translate(370.8 446.5)" fill="#262626" stroke="#262626" stroke-width="0.18"><text transform="translate(0 0) scale(1 1)" font-size="9.5" xml:space="preserve">V</text><text transform="translate(6.64 1.4) scale(1.22 1)" font-size="5.5" stroke-width="0.16">NN</text><text transform="translate(16.53 0) scale(1 1)" font-size="9.5" xml:space="preserve">2</text></g>
<g transform="translate(458.8 446.5)" fill="#262626" stroke="#262626" stroke-width="0.18"><text transform="translate(0 0) scale(1 1)" font-size="9.5" xml:space="preserve">GND</text></g>
<g transform="translate(223.8 282)" fill="#262626" stroke="#262626" stroke-width="0.18"><text transform="translate(0 0) scale(1 1)" font-size="9.5" xml:space="preserve">V</text><text transform="translate(6.64 1.4) scale(1.22 1)" font-size="5.5" stroke-width="0.16">FP</text><text transform="translate(15.41 0) scale(1 1)" font-size="9.5" xml:space="preserve">1</text></g>
<g transform="translate(332 282)" fill="#262626" stroke="#262626" stroke-width="0.18"><text transform="translate(0 0) scale(1 1)" font-size="9.5" xml:space="preserve">V</text><text transform="translate(6.64 1.4) scale(1.22 1)" font-size="5.5" stroke-width="0.16">FP</text><text transform="translate(15.41 0) scale(1 1)" font-size="9.5" xml:space="preserve">2</text></g>
<g transform="translate(423 282)" fill="#262626" stroke="#262626" stroke-width="0.18"><text transform="translate(0 0) scale(1 1)" font-size="9.5" xml:space="preserve">V</text><text transform="translate(6.64 1.4) scale(1.22 1)" font-size="5.5" stroke-width="0.16">SS</text></g>
<g transform="translate(223.8 374.8)" fill="#262626" stroke="#262626" stroke-width="0.18"><text transform="translate(0 0) scale(1 1)" font-size="9.5" xml:space="preserve">V</text><text transform="translate(6.64 1.4) scale(1.22 1)" font-size="5.5" stroke-width="0.16">FN</text><text transform="translate(15.78 0) scale(1 1)" font-size="9.5" xml:space="preserve">1</text></g>
<g transform="translate(331.4 373.5)" fill="#262626" stroke="#262626" stroke-width="0.18"><text transform="translate(0 0) scale(1 1)" font-size="9.5" xml:space="preserve">V</text><text transform="translate(6.64 1.4) scale(1.22 1)" font-size="5.5" stroke-width="0.16">FN</text><text transform="translate(15.78 0) scale(1 1)" font-size="9.5" xml:space="preserve">2</text></g>
<g transform="translate(422.6 373.5)" fill="#262626" stroke="#262626" stroke-width="0.18"><text transform="translate(0 0) scale(1 1)" font-size="9.5" xml:space="preserve">V</text><text transform="translate(6.64 1.4) scale(1.22 1)" font-size="5.5" stroke-width="0.16">DD</text></g>
<g transform="translate(252.6 229.8)" fill="#262626" stroke="#262626" stroke-width="0.18"><text transform="translate(0 0) scale(1 1)" font-size="9.5" xml:space="preserve">P1</text></g>
<g transform="translate(252.6 423.6)" fill="#262626" stroke="#262626" stroke-width="0.18"><text transform="translate(0 0) scale(1 1)" font-size="9.5" xml:space="preserve">N1</text></g>
<g transform="translate(283 230.6)" fill="#262626" stroke="#262626" stroke-width="0.18"><text transform="translate(0 0) scale(1 1)" font-size="9.2" xml:space="preserve">1.6A</text></g>
<g transform="translate(283 425)" fill="#262626" stroke="#262626" stroke-width="0.18"><text transform="translate(0 0) scale(1 1)" font-size="9.2" xml:space="preserve">1.6A</text></g>
<g transform="translate(359.8 229.8)" fill="#262626" stroke="#262626" stroke-width="0.18"><text transform="translate(0 0) scale(1 1)" font-size="9.5" xml:space="preserve">P2</text></g>
<g transform="translate(359.8 423.6)" fill="#262626" stroke="#262626" stroke-width="0.18"><text transform="translate(0 0) scale(1 1)" font-size="9.5" xml:space="preserve">N2</text></g>
<g transform="translate(389.4 230.6)" fill="#262626" stroke="#262626" stroke-width="0.18"><text transform="translate(0 0) scale(1 1)" font-size="9.2" xml:space="preserve">1.6A</text></g>
<g transform="translate(389.4 425)" fill="#262626" stroke="#262626" stroke-width="0.18"><text transform="translate(0 0) scale(1 1)" font-size="9.2" xml:space="preserve">1.6A</text></g>
<g transform="translate(448.8 229.8)" fill="#262626" stroke="#262626" stroke-width="0.18"><text transform="translate(0 0) scale(1 1)" font-size="9.5" xml:space="preserve">P3</text></g>
<g transform="translate(448.8 423.6)" fill="#262626" stroke="#262626" stroke-width="0.18"><text transform="translate(0 0) scale(1 1)" font-size="9.5" xml:space="preserve">N3</text></g>
<g transform="translate(478 230.6)" fill="#262626" stroke="#262626" stroke-width="0.18"><text transform="translate(0 0) scale(1 1)" font-size="9.2" xml:space="preserve">1.6A</text></g>
<g transform="translate(478 425)" fill="#262626" stroke="#262626" stroke-width="0.18"><text transform="translate(0 0) scale(1 1)" font-size="9.2" xml:space="preserve">1.6A</text></g>
<rect x="527.6" y="197.3" width="130" height="90.5" fill="none" stroke="#2b2b2b" stroke-width="1.0" stroke-dasharray="3.2 2.4"/>
<g transform="translate(631 195.2)" fill="#262626" stroke="#262626" stroke-width="0.18"><text transform="translate(0 0) scale(0.96 1)" font-size="9.5" xml:space="preserve">TRSW</text></g>
<polyline points="538.5,218.5 516.6,218.5 516.6,255.3" fill="none" stroke="#2b2b2b" stroke-width="1.2" />
<line x1="508.2" y1="255.4" x2="525" y2="255.4" stroke="#2b2b2b" stroke-width="1.25" />
<circle cx="516.6" cy="255.3" r="1.95" fill="#111"/>
<g transform="translate(506.8 269.3)" fill="#262626" stroke="#262626" stroke-width="0.18"><text transform="translate(0 0) scale(1 1)" font-size="9.5" xml:space="preserve">GND</text></g>
<circle cx="538.5" cy="218.5" r="2.8" fill="#111"/>
<circle cx="556.2" cy="218.5" r="2.8" fill="#111"/>
<line x1="537.8" y1="214.6" x2="554.5" y2="218.2" stroke="#2b2b2b" stroke-width="1.6" />
<line x1="556.2" y1="218.5" x2="611.2" y2="218.5" stroke="#2b2b2b" stroke-width="1.2" />
<circle cx="587.2" cy="218.5" r="1.7" fill="#111"/>
<circle cx="611.2" cy="218.5" r="2.8" fill="#111"/>
<circle cx="629" cy="218.5" r="2.8" fill="#111"/>
<line x1="613.2" y1="207.4" x2="628.6" y2="217.8" stroke="#2b2b2b" stroke-width="1.6" />
<line x1="629" y1="218.5" x2="748.7" y2="218.5" stroke="#2b2b2b" stroke-width="1.2" />
<circle cx="642" cy="218.5" r="1.7" fill="#111"/>
<line x1="587.2" y1="218.5" x2="587.2" y2="255.3" stroke="#2b2b2b" stroke-width="1.2" />
<circle cx="587.2" cy="255.3" r="2.7" fill="#111"/>
<circle cx="587.2" cy="274" r="2.7" fill="#111"/>
<line x1="578.2" y1="257.6" x2="586.6" y2="273" stroke="#2b2b2b" stroke-width="1.6" />
<line x1="587.2" y1="274" x2="587.2" y2="323.3" stroke="#2b2b2b" stroke-width="1.2" />
<circle cx="587" cy="323.3" r="1.95" fill="#111"/>
<polyline points="642,218.5 642,243.8 637.2,245.9 647.7,248.9 637.2,251.4 647.7,254 637.2,256.5 647.7,259.1 642,261.2 642,295" fill="none" stroke="#2b2b2b" stroke-width="1.1" stroke-linejoin="miter"/>
<line x1="633.2" y1="295" x2="650" y2="295" stroke="#2b2b2b" stroke-width="1.25" />
<circle cx="641.8" cy="295" r="1.95" fill="#111"/>
<g transform="translate(632 310.2)" fill="#262626" stroke="#262626" stroke-width="0.18"><text transform="translate(0 0) scale(1 1)" font-size="9.5" xml:space="preserve">GND</text></g>
<g transform="translate(552.8 209.6)" fill="#262626" stroke="#262626" stroke-width="0.18"><text transform="translate(0 0) scale(0.94 1)" font-size="9.5" xml:space="preserve">10Ω</text></g>
<g transform="translate(597.4 209.6)" fill="#262626" stroke="#262626" stroke-width="0.18"><text transform="translate(0 0) scale(0.94 1)" font-size="9.5" xml:space="preserve">2Ω</text></g>
<g transform="translate(555.4 233.6)" fill="#262626" stroke="#262626" stroke-width="0.18"><text transform="translate(0 0) scale(1 1)" font-size="9.5" xml:space="preserve">S2</text></g>
<g transform="translate(614.6 233.6)" fill="#262626" stroke="#262626" stroke-width="0.18"><text transform="translate(0 0) scale(1 1)" font-size="9.5" xml:space="preserve">S3</text></g>
<g transform="translate(591.4 269.6)" fill="#262626" stroke="#262626" stroke-width="0.18"><text transform="translate(0 0) scale(0.94 1)" font-size="9.5" xml:space="preserve">10Ω</text></g>
<g transform="translate(568.6 280.4)" fill="#262626" stroke="#262626" stroke-width="0.18"><text transform="translate(0 0) scale(1 1)" font-size="9.5" xml:space="preserve">S1</text></g>
<g transform="translate(612.2 254.8)" fill="#262626" stroke="#262626" stroke-width="0.18"><text transform="translate(0 0) scale(0.94 1)" font-size="9.5" xml:space="preserve">10kΩ</text></g>
<rect x="548.3" y="313.6" width="30.2" height="19" fill="none" stroke="#2b2b2b" stroke-width="1.1" />
<circle cx="548.3" cy="323.3" r="1.95" fill="#111"/>
<circle cx="578.5" cy="323.3" r="1.95" fill="#111"/>
<polygon points="558.6,308.4 558.6,318.8 566.8,313.6" fill="#111" stroke="none" stroke-width="1.0"/>
<line x1="566.9" y1="308.2" x2="566.9" y2="319" stroke="#2b2b2b" stroke-width="1.1" />
<polygon points="566.8,327.4 566.8,337.8 558.6,332.6" fill="#111" stroke="none" stroke-width="1.0"/>
<line x1="558.5" y1="327.2" x2="558.5" y2="338" stroke="#2b2b2b" stroke-width="1.1" />
<circle cx="526.8" cy="323.3" r="1.95" fill="#111"/>
<line x1="526.8" y1="323.3" x2="526.8" y2="341.6" stroke="#2b2b2b" stroke-width="1.2" />
<circle cx="526.8" cy="341.6" r="2.7" fill="#111"/>
<circle cx="526.8" cy="360.4" r="2.7" fill="#111"/>
<line x1="526" y1="343" x2="518" y2="358.8" stroke="#2b2b2b" stroke-width="1.6" />
<line x1="526.8" y1="360.4" x2="526.8" y2="378.6" stroke="#2b2b2b" stroke-width="1.2" />
<line x1="518.6" y1="378.6" x2="535.2" y2="378.6" stroke="#2b2b2b" stroke-width="1.25" />
<circle cx="526.8" cy="378.6" r="1.95" fill="#111"/>
<g transform="translate(516.8 394.2)" fill="#262626" stroke="#262626" stroke-width="0.18"><text transform="translate(0 0) scale(1 1)" font-size="9.5" xml:space="preserve">GND</text></g>
<g transform="translate(498.6 341.4)" fill="#262626" stroke="#262626" stroke-width="0.18"><text transform="translate(0 0) scale(1 1)" font-size="9.5" xml:space="preserve">ASW</text></g>
<g transform="translate(532.4 356.6)" fill="#262626" stroke="#262626" stroke-width="0.18"><text transform="translate(0 0) scale(0.94 1)" font-size="9.5" xml:space="preserve">250Ω</text></g>
<g transform="translate(499 306.2)" fill="#262626" stroke="#262626" stroke-width="0.18"><text transform="translate(0 0) scale(1 1)" font-size="9.5" xml:space="preserve">TX</text><text transform="translate(12.44 1.4) scale(1.22 1)" font-size="5.5" stroke-width="0.16">OUT</text></g>
<g transform="translate(478.8 317.6)" fill="#262626" stroke="#262626" stroke-width="0.18"><text transform="translate(0 0) scale(1.08 1)" font-size="9.5" xml:space="preserve">(internal node)</text></g>
<rect x="87.3" y="468.6" width="87.9" height="20.6" fill="none" stroke="#4a4a4a" stroke-width="1.0" />
<g transform="translate(131 482.4)" fill="#262626" stroke="#262626" stroke-width="0.18"><text transform="translate(-18.22 0) scale(1 1)" font-size="9.5" xml:space="preserve">Logic I/F</text></g>
<line x1="96.6" y1="489" x2="96.6" y2="501.5" stroke="#2b2b2b" stroke-width="1.0" />
<line x1="108.1" y1="489" x2="108.1" y2="501.5" stroke="#2b2b2b" stroke-width="1.0" />
<line x1="119.7" y1="489" x2="119.7" y2="501.5" stroke="#2b2b2b" stroke-width="1.0" />
<line x1="131.2" y1="489" x2="131.2" y2="501.5" stroke="#2b2b2b" stroke-width="1.0" />
<line x1="142.7" y1="489" x2="142.7" y2="501.5" stroke="#2b2b2b" stroke-width="1.0" />
<line x1="154.1" y1="489" x2="154.1" y2="501.5" stroke="#2b2b2b" stroke-width="1.0" />
<line x1="165.6" y1="489" x2="165.6" y2="501.5" stroke="#2b2b2b" stroke-width="1.0" />
<line x1="96.6" y1="468.6" x2="96.6" y2="459.5" stroke="#2b2b2b" stroke-width="1.0" />
<polygon points="96.6,455.8 94.15,460.6 96.6,459.7 99.05,460.6" fill="#111" stroke="none" stroke-width="1.0"/>
<line x1="108.1" y1="468.6" x2="108.1" y2="459.5" stroke="#2b2b2b" stroke-width="1.0" />
<polygon points="108.1,455.8 105.65,460.6 108.1,459.7 110.55,460.6" fill="#111" stroke="none" stroke-width="1.0"/>
<line x1="119.7" y1="468.6" x2="119.7" y2="459.5" stroke="#2b2b2b" stroke-width="1.0" />
<polygon points="119.7,455.8 117.25,460.6 119.7,459.7 122.15,460.6" fill="#111" stroke="none" stroke-width="1.0"/>
<line x1="131.2" y1="468.6" x2="131.2" y2="459.5" stroke="#2b2b2b" stroke-width="1.0" />
<polygon points="131.2,455.8 128.75,460.6 131.2,459.7 133.65,460.6" fill="#111" stroke="none" stroke-width="1.0"/>
<line x1="142.7" y1="468.6" x2="142.7" y2="360" stroke="#2b2b2b" stroke-width="1.2" />
<polygon points="142.7,356.3 140.25,361.1 142.7,360.2 145.15,361.1" fill="#111" stroke="none" stroke-width="1.0"/>
<line x1="154.1" y1="468.6" x2="154.1" y2="360" stroke="#2b2b2b" stroke-width="1.2" />
<polygon points="154.1,356.3 151.65,361.1 154.1,360.2 156.55,361.1" fill="#111" stroke="none" stroke-width="1.0"/>
<line x1="165.6" y1="468.6" x2="165.6" y2="360" stroke="#2b2b2b" stroke-width="1.2" />
<polygon points="165.6,356.3 163.15,361.1 165.6,360.2 168.05,361.1" fill="#111" stroke="none" stroke-width="1.0"/>
<g transform="translate(100.5 508.6) rotate(-90)" fill="#262626" stroke="#262626" stroke-width="0.18"><text transform="translate(-29.46 0) scale(1 1)" font-size="9.3" xml:space="preserve">TXSEL</text></g>
<g transform="translate(112 508.6) rotate(-90)" fill="#262626" stroke="#262626" stroke-width="0.18"><text transform="translate(-13.43 0) scale(1 1)" font-size="9.3" xml:space="preserve">CC</text></g>
<g transform="translate(123.6 508.6) rotate(-90)" fill="#262626" stroke="#262626" stroke-width="0.18"><text transform="translate(-12.92 0) scale(1 1)" font-size="9.3" xml:space="preserve">EN</text></g>
<g transform="translate(135.1 508.6) rotate(-90)" fill="#262626" stroke="#262626" stroke-width="0.18"><text transform="translate(-26.36 0) scale(1 1)" font-size="9.3" xml:space="preserve">CLKIF</text></g>
<g transform="translate(146.6 508.6) rotate(-90)" fill="#262626" stroke="#262626" stroke-width="0.18"><text transform="translate(-18.09 0) scale(1 1)" font-size="9.3" xml:space="preserve">CLK</text></g>
<g transform="translate(158 508.6) rotate(-90)" fill="#262626" stroke="#262626" stroke-width="0.18"><text transform="translate(-24.29 0) scale(1 1)" font-size="9.3" xml:space="preserve">CLKB</text></g>
<g transform="translate(169.5 508.6) rotate(-90)" fill="#262626" stroke="#262626" stroke-width="0.18"><text transform="translate(-31.01 0) scale(1 1)" font-size="9.3" xml:space="preserve">CLKEN</text></g>
<rect x="212.6" y="460.6" width="97" height="20.6" fill="none" stroke="#4a4a4a" stroke-width="1.0" />
<g transform="translate(219.4 474.8)" fill="#262626" stroke="#262626" stroke-width="0.18"><text transform="translate(0 0) scale(1 1)" font-size="9.5" xml:space="preserve">Thermal  Protection</text></g>
<line x1="261.5" y1="481" x2="261.5" y2="495" stroke="#2b2b2b" stroke-width="1.0" />
<polygon points="261.5,498.6 259.05,493.8 261.5,494.7 263.95,493.8" fill="#111" stroke="none" stroke-width="1.0"/>
<g transform="translate(265.2 508.6) rotate(-90)" fill="#262626" stroke="#262626" stroke-width="0.18"><text transform="translate(-18.6 0) scale(1 1)" font-size="9.3" xml:space="preserve">THP</text></g>
<line x1="343" y1="501.5" x2="343" y2="482" stroke="#2b2b2b" stroke-width="1.0" />
<polygon points="343,478.2 340.55,483 343,482.1 345.45,483" fill="#111" stroke="none" stroke-width="1.0"/>
<line x1="376.4" y1="501.5" x2="376.4" y2="482" stroke="#2b2b2b" stroke-width="1.0" />
<polygon points="376.4,478.2 373.95,483 376.4,482.1 378.85,483" fill="#111" stroke="none" stroke-width="1.0"/>
<line x1="409.6" y1="501.5" x2="409.6" y2="482" stroke="#2b2b2b" stroke-width="1.0" />
<polygon points="409.6,478.2 407.15,483 409.6,482.1 412.05,483" fill="#111" stroke="none" stroke-width="1.0"/>
<line x1="443" y1="501.5" x2="443" y2="482" stroke="#2b2b2b" stroke-width="1.0" />
<polygon points="443,478.2 440.55,483 443,482.1 445.45,483" fill="#111" stroke="none" stroke-width="1.0"/>
<g transform="translate(347.4 508.6) rotate(-90)" fill="#262626" stroke="#262626" stroke-width="0.18"><text transform="translate(-13.26 0) scale(1 1)" font-size="9.5" xml:space="preserve">V</text><text transform="translate(-6.62 1.4) scale(1.05 1)" font-size="5.5" stroke-width="0.16">LL</text></g>
<g transform="translate(358.6 508.6) rotate(-90)" fill="#262626" stroke="#262626" stroke-width="0.18"><text transform="translate(-49.9 0) scale(1 1)" font-size="9.5" xml:space="preserve">(+1.8 to 5V)</text></g>
<g transform="translate(380.2 508.6) rotate(-90)" fill="#262626" stroke="#262626" stroke-width="0.18"><text transform="translate(-15.18 0) scale(1 1)" font-size="9.5" xml:space="preserve">V</text><text transform="translate(-8.54 1.4) scale(1.05 1)" font-size="5.5" stroke-width="0.16">DD</text></g>
<g transform="translate(391.2 508.6) rotate(-90)" fill="#262626" stroke="#262626" stroke-width="0.18"><text transform="translate(-23.5 0) scale(1 1)" font-size="9.5" xml:space="preserve">(+5V)</text></g>
<g transform="translate(413.2 508.6) rotate(-90)" fill="#262626" stroke="#262626" stroke-width="0.18"><text transform="translate(-14.54 0) scale(1 1)" font-size="9.5" xml:space="preserve">V</text><text transform="translate(-7.9 1.4) scale(1.05 1)" font-size="5.5" stroke-width="0.16">SS</text></g>
<g transform="translate(424.6 508.6) rotate(-90)" fill="#262626" stroke="#262626" stroke-width="0.18"><text transform="translate(-21.11 0) scale(1 1)" font-size="9.5" xml:space="preserve">(-5V)</text></g>
<g transform="translate(446.8 508.6) rotate(-90)" fill="#262626" stroke="#262626" stroke-width="0.18"><text transform="translate(-21.11 0) scale(1 1)" font-size="9.5" xml:space="preserve">GND</text></g>
<circle cx="275.5" cy="63.5" r="2.95" fill="#fff" stroke="#2b2b2b" stroke-width="1"/>
<circle cx="311.2" cy="63.5" r="2.95" fill="#fff" stroke="#2b2b2b" stroke-width="1"/>
<circle cx="346.8" cy="63.5" r="2.95" fill="#fff" stroke="#2b2b2b" stroke-width="1"/>
<circle cx="382.5" cy="63.5" r="2.95" fill="#fff" stroke="#2b2b2b" stroke-width="1"/>
<circle cx="430.6" cy="63.5" r="2.95" fill="#fff" stroke="#2b2b2b" stroke-width="1"/>
<circle cx="466" cy="63.5" r="2.95" fill="#fff" stroke="#2b2b2b" stroke-width="1"/>
<circle cx="501.5" cy="63.5" r="2.95" fill="#fff" stroke="#2b2b2b" stroke-width="1"/>
<circle cx="536.6" cy="63.5" r="2.95" fill="#fff" stroke="#2b2b2b" stroke-width="1"/>
<circle cx="38.7" cy="126.9" r="2.95" fill="#fff" stroke="#2b2b2b" stroke-width="1"/>
<circle cx="38.7" cy="139.93" r="2.95" fill="#fff" stroke="#2b2b2b" stroke-width="1"/>
<circle cx="38.7" cy="152.96" r="2.95" fill="#fff" stroke="#2b2b2b" stroke-width="1"/>
<circle cx="38.7" cy="165.99" r="2.95" fill="#fff" stroke="#2b2b2b" stroke-width="1"/>
<circle cx="38.7" cy="179.02" r="2.95" fill="#fff" stroke="#2b2b2b" stroke-width="1"/>
<circle cx="38.7" cy="192.05" r="2.95" fill="#fff" stroke="#2b2b2b" stroke-width="1"/>
<circle cx="38.7" cy="205.08" r="2.95" fill="#fff" stroke="#2b2b2b" stroke-width="1"/>
<circle cx="38.7" cy="218.11" r="2.95" fill="#fff" stroke="#2b2b2b" stroke-width="1"/>
<circle cx="38.7" cy="231.14" r="2.95" fill="#fff" stroke="#2b2b2b" stroke-width="1"/>
<circle cx="38.7" cy="244.17" r="2.95" fill="#fff" stroke="#2b2b2b" stroke-width="1"/>
<circle cx="38.7" cy="257.2" r="2.95" fill="#fff" stroke="#2b2b2b" stroke-width="1"/>
<circle cx="38.7" cy="270.23" r="2.95" fill="#fff" stroke="#2b2b2b" stroke-width="1"/>
<circle cx="38.7" cy="283.26" r="2.95" fill="#fff" stroke="#2b2b2b" stroke-width="1"/>
<circle cx="38.7" cy="296.29" r="2.95" fill="#fff" stroke="#2b2b2b" stroke-width="1"/>
<circle cx="38.7" cy="309.32" r="2.95" fill="#fff" stroke="#2b2b2b" stroke-width="1"/>
<circle cx="38.7" cy="322.35" r="2.95" fill="#fff" stroke="#2b2b2b" stroke-width="1"/>
<circle cx="748.7" cy="139.3" r="2.95" fill="#fff" stroke="#2b2b2b" stroke-width="1"/>
<circle cx="748.7" cy="243.5" r="2.95" fill="#fff" stroke="#2b2b2b" stroke-width="1"/>
<circle cx="748.7" cy="150.63" r="2.95" fill="#fff" stroke="#2b2b2b" stroke-width="1"/>
<circle cx="748.7" cy="254.9" r="2.95" fill="#fff" stroke="#2b2b2b" stroke-width="1"/>
<circle cx="748.7" cy="161.96" r="2.95" fill="#fff" stroke="#2b2b2b" stroke-width="1"/>
<circle cx="748.7" cy="266.3" r="2.95" fill="#fff" stroke="#2b2b2b" stroke-width="1"/>
<circle cx="748.7" cy="173.29" r="2.95" fill="#fff" stroke="#2b2b2b" stroke-width="1"/>
<circle cx="748.7" cy="277.7" r="2.95" fill="#fff" stroke="#2b2b2b" stroke-width="1"/>
<circle cx="748.7" cy="184.62" r="2.95" fill="#fff" stroke="#2b2b2b" stroke-width="1"/>
<circle cx="748.7" cy="289.1" r="2.95" fill="#fff" stroke="#2b2b2b" stroke-width="1"/>
<circle cx="748.7" cy="195.95" r="2.95" fill="#fff" stroke="#2b2b2b" stroke-width="1"/>
<circle cx="748.7" cy="300.5" r="2.95" fill="#fff" stroke="#2b2b2b" stroke-width="1"/>
<circle cx="748.7" cy="207.28" r="2.95" fill="#fff" stroke="#2b2b2b" stroke-width="1"/>
<circle cx="748.7" cy="311.9" r="2.95" fill="#fff" stroke="#2b2b2b" stroke-width="1"/>
<circle cx="748.7" cy="218.61" r="2.95" fill="#fff" stroke="#2b2b2b" stroke-width="1"/>
<circle cx="748.7" cy="323.3" r="2.95" fill="#fff" stroke="#2b2b2b" stroke-width="1"/>
<circle cx="96.6" cy="501.5" r="2.95" fill="#fff" stroke="#2b2b2b" stroke-width="1"/>
<circle cx="108.1" cy="501.5" r="2.95" fill="#fff" stroke="#2b2b2b" stroke-width="1"/>
<circle cx="119.7" cy="501.5" r="2.95" fill="#fff" stroke="#2b2b2b" stroke-width="1"/>
<circle cx="131.2" cy="501.5" r="2.95" fill="#fff" stroke="#2b2b2b" stroke-width="1"/>
<circle cx="142.7" cy="501.5" r="2.95" fill="#fff" stroke="#2b2b2b" stroke-width="1"/>
<circle cx="154.1" cy="501.5" r="2.95" fill="#fff" stroke="#2b2b2b" stroke-width="1"/>
<circle cx="165.6" cy="501.5" r="2.95" fill="#fff" stroke="#2b2b2b" stroke-width="1"/>
<circle cx="261.5" cy="501.5" r="2.95" fill="#fff" stroke="#2b2b2b" stroke-width="1"/>
<circle cx="343" cy="501.5" r="2.95" fill="#fff" stroke="#2b2b2b" stroke-width="1"/>
<circle cx="376.4" cy="501.5" r="2.95" fill="#fff" stroke="#2b2b2b" stroke-width="1"/>
<circle cx="409.6" cy="501.5" r="2.95" fill="#fff" stroke="#2b2b2b" stroke-width="1"/>
<circle cx="443" cy="501.5" r="2.95" fill="#fff" stroke="#2b2b2b" stroke-width="1"/>
</svg>
</body></html>
